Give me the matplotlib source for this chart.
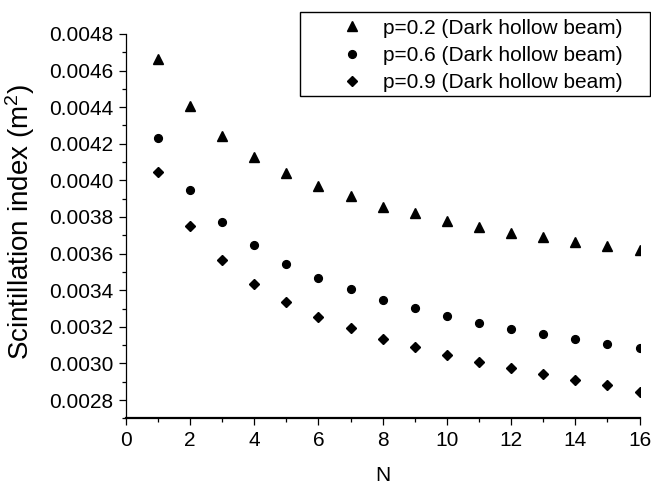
import matplotlib
matplotlib.use("Agg")
import matplotlib.pyplot as plt
from matplotlib.ticker import MultipleLocator, FormatStrFormatter
from matplotlib.patches import Rectangle

plt.rcParams['font.family'] = ['Liberation Sans', 'DejaVu Sans']
plt.rcParams['mathtext.fontset'] = 'custom'
plt.rcParams['mathtext.rm'] = 'Liberation Sans'
plt.rcParams['mathtext.it'] = 'Liberation Sans:italic'

# data
N = list(range(1, 17))
si_p02 = [0.004664, 0.004407, 0.004244, 0.004127, 0.004040, 0.003967, 0.003913, 0.003856,
          0.003822, 0.003780, 0.003744, 0.003713, 0.003691, 0.003665, 0.003642, 0.003622]
si_p06 = [0.004231, 0.003947, 0.003771, 0.003645, 0.003544, 0.003466, 0.003404, 0.003349,
          0.003302, 0.003258, 0.003222, 0.003189, 0.003160, 0.003133, 0.003105, 0.003086]
si_p09 = [0.004046, 0.003753, 0.003567, 0.003436, 0.003338, 0.003256, 0.003191, 0.003136,
          0.003087, 0.003045, 0.003007, 0.002975, 0.002942, 0.002911, 0.002880, 0.002844]
labels = ["p=0.2 (Dark hollow beam)", "p=0.6 (Dark hollow beam)", "p=0.9 (Dark hollow beam)"]

fig = plt.figure(figsize=(6.51, 4.84), dpi=100)
ax = fig.add_axes([0.1931, 0.1357, 0.7893, 0.7941])

ax.plot(N, si_p02, linestyle='none', marker='^', markersize=7, color='black', label=labels[0])
ax.plot(N, si_p06, linestyle='none', marker='o', markersize=5.6, color='black', label=labels[1])
ax.plot(N, si_p09, linestyle='none', marker='D', markersize=5.2, color='black', label=labels[2])

ax.set_xlim(0, 16)
ax.set_ylim(0.0027, 0.0048)
ax.xaxis.set_major_locator(MultipleLocator(2))
ax.xaxis.set_minor_locator(MultipleLocator(1))
ax.yaxis.set_major_locator(MultipleLocator(0.0002))
ax.yaxis.set_minor_locator(MultipleLocator(0.0001))
ax.yaxis.set_major_formatter(FormatStrFormatter('%.4f'))

for side in ('top', 'right'):
    ax.spines[side].set_visible(False)
ax.spines['bottom'].set_linewidth(1.6)
ax.spines['left'].set_linewidth(0.9)
ax.tick_params(which='major', direction='out', length=5, width=0.9, labelsize=15, pad=4)
ax.tick_params(which='minor', direction='out', length=3, width=0.9)
ax.tick_params(axis='y', which='major', pad=4)

ax.set_xlabel("N", fontsize=15, va='center')
ax.xaxis.set_label_coords(0.5, -0.149)
ax.set_ylabel(r"Scintillation index (m$^2$)", fontsize=20, va='center')
ax.yaxis.set_label_coords(-0.2057, 0.511)

# legend box drawn separately so that it matches the reference extent
fig.patches.append(Rectangle((300 / 651, 1 - 96 / 484), 350 / 651, 84.3 / 484,
                             transform=fig.transFigure, fill=False,
                             edgecolor='black', linewidth=1.0))
fig.legend(loc='upper left', bbox_to_anchor=(341.6 / 651, 1 - 18.5 / 484),
           frameon=False, fontsize=15, handlelength=1.0, handletextpad=1.0,
           borderpad=0, borderaxespad=0, labelspacing=0.4, numpoints=1)

fig.savefig("out.png", dpi=100)
